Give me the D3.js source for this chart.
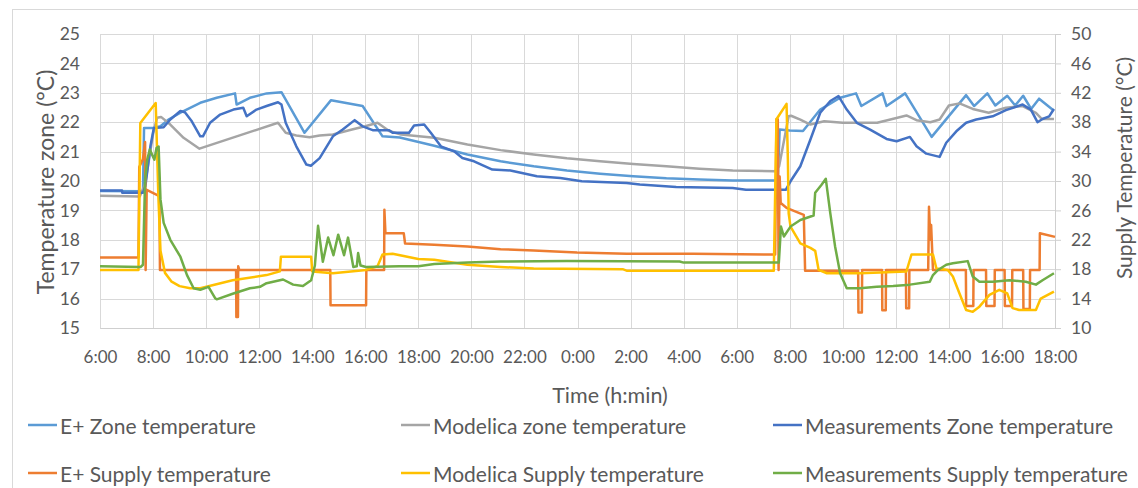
<!DOCTYPE html>
<html>
<head>
<meta charset="utf-8">
<script src="https://cdn.jsdelivr.net/npm/d3@7"></script>
<style>
  body { margin: 0; background: #fff; }
  svg text { font-family: Lato, "Liberation Sans", sans-serif; fill: #595959; }
</style>
</head>
<body>
<div id="chart"></div>
<script>
// hours counted from midnight of day 1 (6 = 6:00, 30 = 6:00 next day)
var xTicks = [6, 8, 10, 12, 14, 16, 18, 20, 22, 24, 26, 28, 30, 32, 34, 36, 38, 40, 42];
var leftTicks = [15, 16, 17, 18, 19, 20, 21, 22, 23, 24, 25];
var rightTicks = [10, 14, 18, 22, 26, 30, 34, 38, 42, 46, 50];

// zone temperatures (left axis)
var eplusZone = [[6,19.66],[7.62,19.65],[7.66,21.8],[8.0,21.8],[8.28,21.86],[8.6,22.1],[9.15,22.38],[9.78,22.66],[10.4,22.83],[11.09,22.98],[11.15,22.6],[11.65,22.83],[12.28,22.98],[12.84,23.02],[13.71,21.64],[14.71,22.75],[15.9,22.55],[16.65,21.52],[17.3,21.48],[18.6,21.2],[19.85,20.9],[21.1,20.67],[22.35,20.5],[23.6,20.36],[24.85,20.25],[26.1,20.16],[27.35,20.09],[28.6,20.05],[29.85,20.02],[31.55,20.02],[31.62,21.75],[32.0,21.72],[32.5,21.7],[33.15,22.43],[33.9,22.83],[34.5,22.98],[34.7,22.55],[35.5,22.98],[35.65,22.55],[36.35,22.98],[37.35,21.5],[38.65,22.92],[38.95,22.55],[39.45,22.98],[39.75,22.57],[40.2,22.9],[40.5,22.57],[40.8,22.9],[41.1,22.45],[41.4,22.8],[41.95,22.4]];
var modelicaZone = [[6,19.5],[7.5,19.47],[7.7,19.9],[8.0,21.6],[8.15,22.15],[8.3,22.18],[8.65,21.92],[9.15,21.47],[9.75,21.1],[12.71,21.98],[13.0,21.64],[13.4,21.55],[13.9,21.49],[14.28,21.55],[14.78,21.58],[15.5,21.75],[16.0,21.86],[16.46,21.98],[16.9,21.7],[17.35,21.58],[18.6,21.47],[19.85,21.24],[21.1,21.05],[22.35,20.9],[23.6,20.77],[24.85,20.67],[26.1,20.58],[27.35,20.5],[28.6,20.42],[29.85,20.36],[31.45,20.33],[31.6,20.5],[31.96,22.2],[32.05,22.22],[32.4,22.09],[32.78,21.92],[33.3,22.03],[34.0,21.98],[35.3,21.98],[36.4,22.23],[36.78,22.07],[37.3,22.0],[37.65,22.09],[38.0,22.57],[38.4,22.64],[38.9,22.45],[39.5,22.32],[40.15,22.49],[40.78,22.55],[41.28,22.32],[41.5,22.11],[41.96,22.11]];
var measZone = [[6,19.68],[6.83,19.68],[6.84,19.6],[7.62,19.6],[7.71,19.82],[7.9,21.18],[8.03,21.8],[8.4,21.83],[8.65,22.09],[9.03,22.38],[9.2,22.34],[9.46,22.03],[9.78,21.52],[9.88,21.52],[10.15,21.98],[10.53,22.26],[11.03,22.43],[11.4,22.49],[11.53,22.2],[11.9,22.43],[12.28,22.55],[12.71,22.68],[12.84,22.6],[13.0,21.98],[13.4,21.18],[13.78,20.56],[13.95,20.52],[14.28,20.78],[14.78,21.52],[15.15,21.75],[15.6,22.07],[15.9,21.86],[16.28,21.73],[16.9,21.73],[17.03,21.64],[17.65,21.64],[17.84,21.89],[18.22,21.92],[18.47,21.64],[18.85,21.18],[19.35,21.01],[19.66,20.78],[20.1,20.67],[20.79,20.39],[21.47,20.36],[22.47,20.16],[23.35,20.1],[24.16,19.99],[25.85,19.93],[26.35,19.88],[27.72,19.8],[29.85,19.76],[30.35,19.7],[31.85,19.7],[32.03,19.99],[32.4,20.5],[32.78,21.41],[33.15,22.32],[33.53,22.72],[33.84,22.89],[34.15,22.43],[34.53,21.98],[35.03,21.75],[35.65,21.43],[36.03,21.35],[36.53,21.5],[36.78,21.18],[37.15,20.93],[37.65,20.82],[37.9,21.3],[38.28,21.69],[38.65,21.98],[39.03,22.09],[39.65,22.2],[40.15,22.41],[40.78,22.6],[41.09,22.43],[41.34,22.0],[41.53,22.11],[41.78,22.2],[41.96,22.45]];

// supply temperatures (right axis)
var eplusSupply = [[6,19.6],[7.45,19.6],[7.48,31.9],[7.62,33],[7.7,35.3],[7.72,17.9],[7.76,28.8],[8.2,28.0],[8.24,28.0],[8.26,17.9],[11.13,17.9],[11.14,11.5],[11.2,11.5],[11.21,18.4],[11.25,17.9],[14.68,17.9],[14.69,13.1],[16.03,13.1],[16.04,17.9],[16.71,17.9],[16.72,26.1],[16.76,22.9],[17.45,22.9],[17.5,21.5],[18.6,21.32],[19.85,21.1],[21.1,20.73],[22.35,20.55],[23.98,20.27],[25.85,20.1],[28.35,20.1],[31.45,20.0],[31.5,38.4],[31.55,38.4],[31.58,17.9],[31.62,30.6],[31.66,27.0],[31.9,26.3],[32.53,25.4],[32.58,17.8],[34.58,17.8],[34.59,12.1],[34.72,12.1],[34.73,17.9],[35.48,17.9],[35.49,12.4],[35.62,12.4],[35.63,17.9],[36.38,17.9],[36.39,12.7],[36.5,12.7],[36.51,17.9],[37.22,17.9],[37.25,26.5],[37.3,22.0],[37.33,24],[37.4,17.9],[38.64,17.9],[38.65,13.0],[38.92,13.0],[38.93,17.9],[39.4,17.9],[39.41,13.0],[39.72,13.0],[39.73,17.9],[40.1,17.9],[40.11,13.0],[40.38,13.0],[40.39,17.9],[40.8,17.9],[40.81,12.6],[41.05,12.6],[41.06,17.9],[41.42,17.9],[41.43,22.9],[42,22.4]];
var modelicaSupply = [[6,17.9],[7.45,17.9],[7.52,37.9],[8.1,40.6],[8.2,28],[8.28,20.5],[8.45,17.5],[8.7,16.3],[9.0,15.7],[9.4,15.4],[9.78,15.4],[11.0,16.5],[12.28,17.2],[12.78,17.7],[12.82,19.7],[13.96,19.7],[14.0,17.7],[14.78,17.45],[16.03,17.9],[16.46,18.4],[16.65,20.0],[17.03,20.1],[18.0,19.4],[18.6,19.3],[19.85,18.6],[21.1,18.3],[22.35,18.1],[25.7,18.0],[25.85,17.8],[31.4,17.8],[31.5,38.4],[31.88,40.5],[31.93,33],[31.96,25.6],[32.03,23.8],[32.4,21.5],[32.78,20.9],[32.96,20.5],[33.09,17.9],[33.4,17.45],[34.65,17.45],[36.4,17.7],[36.59,20.0],[37.4,20.0],[37.53,18.1],[37.96,17.9],[38.15,17.0],[38.4,14.7],[38.65,12.45],[38.9,12.2],[39.15,12.9],[39.53,14.5],[39.9,15.2],[40.2,14.7],[40.4,12.7],[40.65,12.45],[41.28,12.45],[41.46,14.0],[41.96,14.95]];
var measSupply = [[6,18.4],[7.53,18.3],[7.62,18.6],[7.7,30.2],[7.78,32.9],[7.88,34.3],[7.96,33.6],[8.05,32.9],[8.13,34.5],[8.21,34.7],[8.28,27.5],[8.4,24.3],[8.65,22.0],[9.03,19.7],[9.28,17.2],[9.53,15.4],[9.78,15.2],[10.09,15.6],[10.34,14.05],[10.4,13.9],[11.03,14.7],[11.65,15.4],[12.03,15.6],[12.28,16.1],[12.53,16.3],[12.9,16.6],[13.28,15.9],[13.65,15.7],[13.96,16.5],[14.1,18.5],[14.22,23.9],[14.4,19.0],[14.6,22.3],[14.8,19.9],[14.98,22.7],[15.2,19.9],[15.35,22.3],[15.55,18.3],[15.68,18.4],[15.73,20.2],[15.82,18.5],[16.03,18.3],[17.28,18.4],[18.0,18.4],[18.6,18.7],[19.85,18.9],[21.1,19.05],[23.6,19.1],[27.85,19.05],[28.0,18.9],[31.59,18.9],[31.67,23.8],[31.78,22.45],[32.03,23.8],[32.4,24.7],[32.9,25.3],[32.96,28.4],[33.2,29.5],[33.36,30.3],[33.53,25.6],[33.71,21.1],[33.9,17.45],[34.15,15.4],[34.65,15.4],[35.28,15.6],[35.9,15.7],[36.53,15.9],[37.28,16.3],[37.4,17.2],[37.59,17.9],[37.9,18.6],[38.15,18.8],[38.71,19.1],[38.9,17.0],[39.15,16.3],[39.65,16.3],[40.28,16.5],[40.9,16.3],[41.28,15.9],[41.53,16.5],[41.96,17.45]];

var seriesNames = ["E+ Zone temperature", "Modelica zone temperature", "Measurements Zone temperature",
                   "E+ Supply temperature", "Modelica Supply temperature", "Measurements Supply temperature"];
var seriesColors = ["#5B9BD5", "#A5A5A5", "#4472C4", "#ED7D31", "#FFC000", "#70AD47"];

var W = 1138, H = 488;
var plot = { left: 100, right: 1055, top: 34, bottom: 328 };

var x = d3.scaleLinear().domain([6, 42]).range([plot.left, plot.right]);
var yL = d3.scaleLinear().domain([15, 25]).range([plot.bottom, plot.top]);
var yR = d3.scaleLinear().domain([10, 50]).range([plot.bottom, plot.top]);

var svg = d3.select("#chart").append("svg")
    .attr("width", W)
    .attr("height", H);

// chart border
svg.append("rect")
    .attr("x", 12.5).attr("y", 9.5)
    .attr("width", W).attr("height", H)
    .attr("fill", "none").attr("stroke", "#d9d9d9");

// gridlines
svg.append("g").selectAll("line").data(leftTicks).enter().append("line")
    .attr("x1", plot.left).attr("x2", plot.right)
    .attr("y1", function(d){ return Math.round(yL(d)) + 0.5; })
    .attr("y2", function(d){ return Math.round(yL(d)) + 0.5; })
    .attr("stroke", "#d9d9d9");
svg.append("g").selectAll("line").data(xTicks).enter().append("line")
    .attr("x1", function(d){ return Math.round(x(d)) + 0.5; })
    .attr("x2", function(d){ return Math.round(x(d)) + 0.5; })
    .attr("y1", plot.top).attr("y2", plot.bottom)
    .attr("stroke", "#d9d9d9");

// axes
var xAxis = d3.axisBottom(x).tickValues(xTicks)
    .tickFormat(function(d){ return (d % 24) + ":00"; })
    .tickSize(0).tickPadding(23);
var gx = svg.append("g")
    .attr("transform", "translate(0," + plot.bottom + ")")
    .call(xAxis);
gx.select(".domain").attr("stroke", "#cfcfcf");
gx.selectAll("text").style("font-size", "17px");

var gl = svg.append("g")
    .attr("transform", "translate(" + plot.left + ",0)")
    .call(d3.axisLeft(yL).tickValues(leftTicks).tickSize(0).tickPadding(20));
gl.select(".domain").remove();
gl.selectAll("text").style("font-size", "17.5px");

var gr = svg.append("g")
    .attr("transform", "translate(" + plot.right + ",0)")
    .call(d3.axisRight(yR).tickValues(rightTicks).tickSizeInner(6).tickSizeOuter(0).tickPadding(10));
gr.select(".domain").attr("stroke", "#cfcfcf");
gr.selectAll(".tick line").attr("stroke", "#cfcfcf");
gr.selectAll("text").style("font-size", "17.5px");

// axis titles
svg.append("text")
    .attr("transform", "translate(45,182) rotate(-90)")
    .attr("text-anchor", "middle").attr("dominant-baseline", "central")
    .style("font-size", "23px")
    .text("Temperature zone (°C)");
svg.append("text")
    .attr("transform", "translate(1123,168) rotate(-90)")
    .attr("text-anchor", "middle").attr("dominant-baseline", "central")
    .style("font-size", "21px")
    .text("Supply Temperature (°C)");
svg.append("text")
    .attr("x", 610).attr("y", 395)
    .attr("text-anchor", "middle").attr("dominant-baseline", "central")
    .style("font-size", "21.5px")
    .text("Time (h:min)");

// lines
var lineL = d3.line().x(function(d){ return x(d[0]); }).y(function(d){ return yL(d[1]); });
var lineR = d3.line().x(function(d){ return x(d[0]); }).y(function(d){ return yR(d[1]); });
var allSeries = [eplusZone, modelicaZone, measZone, eplusSupply, modelicaSupply, measSupply];

allSeries.forEach(function(s, i){
    svg.append("path")
        .datum(s)
        .attr("fill", "none")
        .attr("stroke", seriesColors[i])
        .attr("stroke-width", 2.5)
        .attr("stroke-linejoin", "round")
        .attr("d", i < 3 ? lineL : lineR);
});

// legend
var legX = [28, 401, 773], legY = [425, 473];
var leg = svg.append("g").selectAll("g").data(seriesNames).enter().append("g")
    .attr("transform", function(d, i){ return "translate(" + legX[i % 3] + "," + legY[Math.floor(i / 3)] + ")"; });
leg.append("line")
    .attr("x1", 0).attr("x2", 29).attr("y1", 0).attr("y2", 0)
    .attr("stroke", function(d, i){ return seriesColors[i]; })
    .attr("stroke-width", 2.5);
leg.append("text")
    .attr("x", 32).attr("y", 0)
    .attr("dominant-baseline", "central")
    .style("font-size", "21px")
    .text(function(d){ return d; });
</script>
</body>
</html>
